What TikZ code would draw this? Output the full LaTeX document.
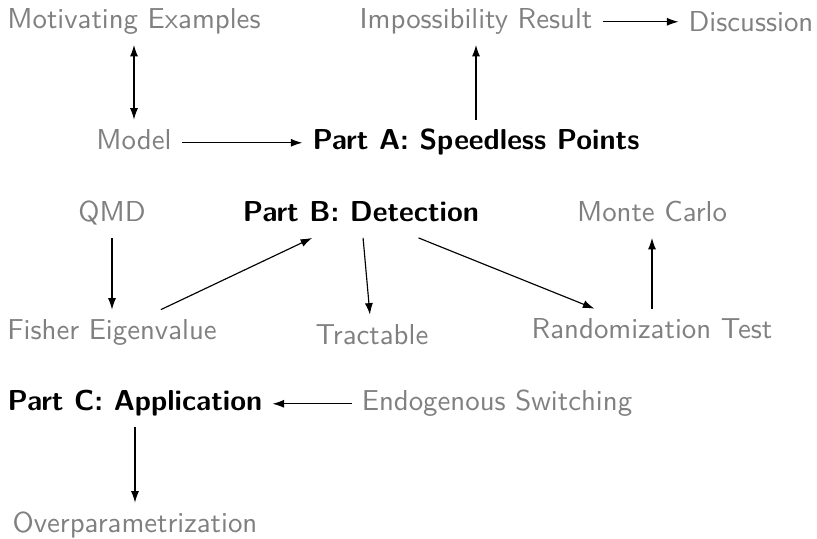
\documentclass[tikz,border=0pt]{standalone}
\usetikzlibrary{arrows.meta}
\begin{document}
\begin{tikzpicture}[
  x=0.347pt, y=-0.347pt,
  every node/.style={anchor=base, text height=0.7em, text depth=0.2em},
  topic/.style={font=\sffamily, text=gray},
  part/.style={font=\sffamily\bfseries, text=black},
  tip/.tip={Latex[length=4pt,width=2.8pt]},
  link/.style={-tip, line width=0.4pt}
]
\useasboundingbox (0,0) rectangle (817,539);

% Part A and its surroundings
\node[topic] (mot)  at (134,29)  {Motivating Examples};
\node[topic] (imp)  at (476,29)  {Impossibility Result};
\node[topic] (disc) at (751,32)  {Discussion};
\node[topic] (mod)  at (134,150) {Model};
\node[part]  (pa)   at (476,150) {Part A: Speedless Points};

% Part B and its surroundings
\node[topic] (qmd)  at (112,222) {QMD};
\node[part]  (pb)   at (361,222) {Part B: Detection};
\node[topic] (mc)   at (652,222) {Monte Carlo};
\node[topic] (fish) at (112,340) {Fisher Eigenvalue};
\node[topic] (trac) at (372,345) {Tractable};
\node[topic] (rand) at (652,339) {Randomization Test};

% Part C and its surroundings
\node[part]  (pc)   at (135,411) {Part C: Application};
\node[topic] (endo) at (497,411) {Endogenous Switching};
\node[topic] (over) at (135,533) {Overparametrization};

% connectors
\draw[link, tip-tip] (mot) -- (mod);
\draw[link] (mod) -- (pa);
\draw[link] (pa) -- (imp);
\draw[link] (imp.east) -- (imp.east -| disc.west);
\draw[link] (qmd) -- (fish);
\draw[link] (fish) -- (pb);
\draw[link] (pb) -- (trac);
\draw[link] (pb) -- (rand);
\draw[link] (rand) -- (mc);
\draw[link] (endo) -- (pc);
\draw[link] (pc) -- (over);
\end{tikzpicture}
\end{document}
